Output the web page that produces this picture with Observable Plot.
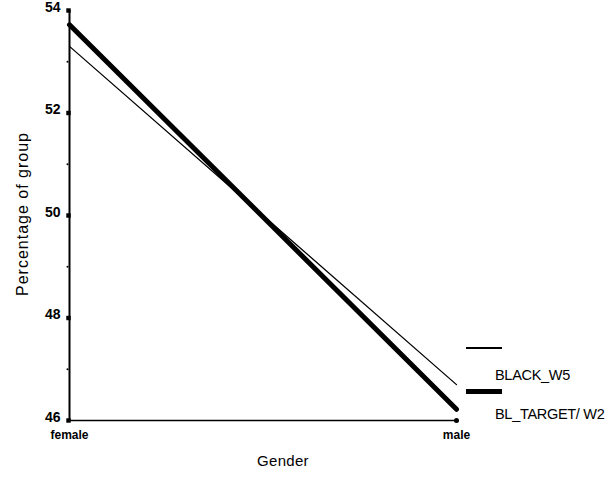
<!DOCTYPE html>
<html><head><meta charset="utf-8">
<script src="https://cdn.jsdelivr.net/npm/d3@7"></script>
<script src="https://cdn.jsdelivr.net/npm/@observablehq/plot@0.6"></script>
<style>
body{margin:0;background:#fff;font-family:"Liberation Sans",Arial,sans-serif;}
#wrap{position:relative;width:605px;height:499px;}
.leg{position:absolute;font-size:14.5px;color:#000;letter-spacing:-0.3px}
.sw{position:absolute;background:#000}
</style></head>
<body><div id="wrap"></div>
<script>
const genders = ["female", "male"];
const seriesNames = ["BLACK_W5", "BL_TARGET/ W2"];
const blackW5 = [53.3, 46.7];
const blTargetW2 = [53.72, 46.22];
const majorTicks = [46, 48, 50, 52, 54];
const minorTicks = [47, 49, 51, 53];

const rows = [];
genders.forEach((g, i) => {
  rows.push({gender: g, value: blackW5[i], series: seriesNames[0]});
  rows.push({gender: g, value: blTargetW2[i], series: seriesNames[1]});
});

const plot = Plot.plot({
  width: 605, height: 499,
  marginLeft: 69, marginRight: 149, marginTop: 10, marginBottom: 79,
  style: {fontFamily: "'Liberation Sans', Arial, sans-serif", background: "white", color: "black"},
  x: {type: "point", domain: genders, padding: 0, axis: null},
  y: {domain: [46, 54], axis: null},
  marks: [
    Plot.ruleX([genders[0]], {y1: 46, y2: 54, stroke: "black", strokeWidth: 2}),
    Plot.line(genders, {x: d => d, y: () => 46, stroke: "black", strokeWidth: 1.5}),
    Plot.dot(majorTicks, {x: () => genders[0], y: d => d, r: 2.5, symbol: "square", fill: "black", dx: -1}),
    Plot.dot(minorTicks, {x: () => genders[0], y: d => d, r: 1, fill: "black", dx: -2}),
    Plot.dot([genders[1]], {x: d => d, y: () => 46, r: 2.5, fill: "black"}),
    Plot.text(majorTicks, {x: () => genders[0], y: d => d, text: d => String(d), dx: -9, textAnchor: "end", fontSize: 14, fontWeight: "bold", dy: -3}),
    Plot.text(genders, {x: d => d, y: () => 46, text: d => d, dy: 15, textAnchor: "middle", fontSize: 12, fontWeight: "bold"}),
    Plot.line(rows.filter(r => r.series === seriesNames[0]), {x: "gender", y: "value", stroke: "black", strokeWidth: 1.3}),
    Plot.line(rows.filter(r => r.series === seriesNames[1]), {x: "gender", y: "value", stroke: "black", strokeWidth: 5})
  ]
});
const wrap = document.getElementById("wrap");
wrap.appendChild(plot);

const yt = document.createElement("div");
yt.className = "leg";
yt.textContent = "Percentage of group";
yt.style.cssText += "font-size:16px;letter-spacing:1px;left:23px;top:214px;transform:translate(-50%,-50%) rotate(-90deg);white-space:nowrap;";
wrap.appendChild(yt);
const xt = document.createElement("div");
xt.className = "leg";
xt.textContent = "Gender";
xt.style.cssText += "font-size:15px;letter-spacing:0.3px;left:283px;top:460px;transform:translate(-50%,-50%);";
wrap.appendChild(xt);

const legY = [348, 391];
const legW = [1.5, 5];
const legTextY = [375, 414];
seriesNames.forEach((s, i) => {
  const sw = document.createElement("div");
  sw.className = "sw";
  sw.style.cssText += `left:466px;top:${legY[i] - legW[i]/2}px;width:36px;height:${legW[i]}px;`;
  wrap.appendChild(sw);
  const t = document.createElement("div");
  t.className = "leg";
  t.textContent = s;
  t.style.cssText += `left:495px;top:${legTextY[i]}px;transform:translateY(-50%);white-space:nowrap;`;
  wrap.appendChild(t);
});
</script></body></html>
